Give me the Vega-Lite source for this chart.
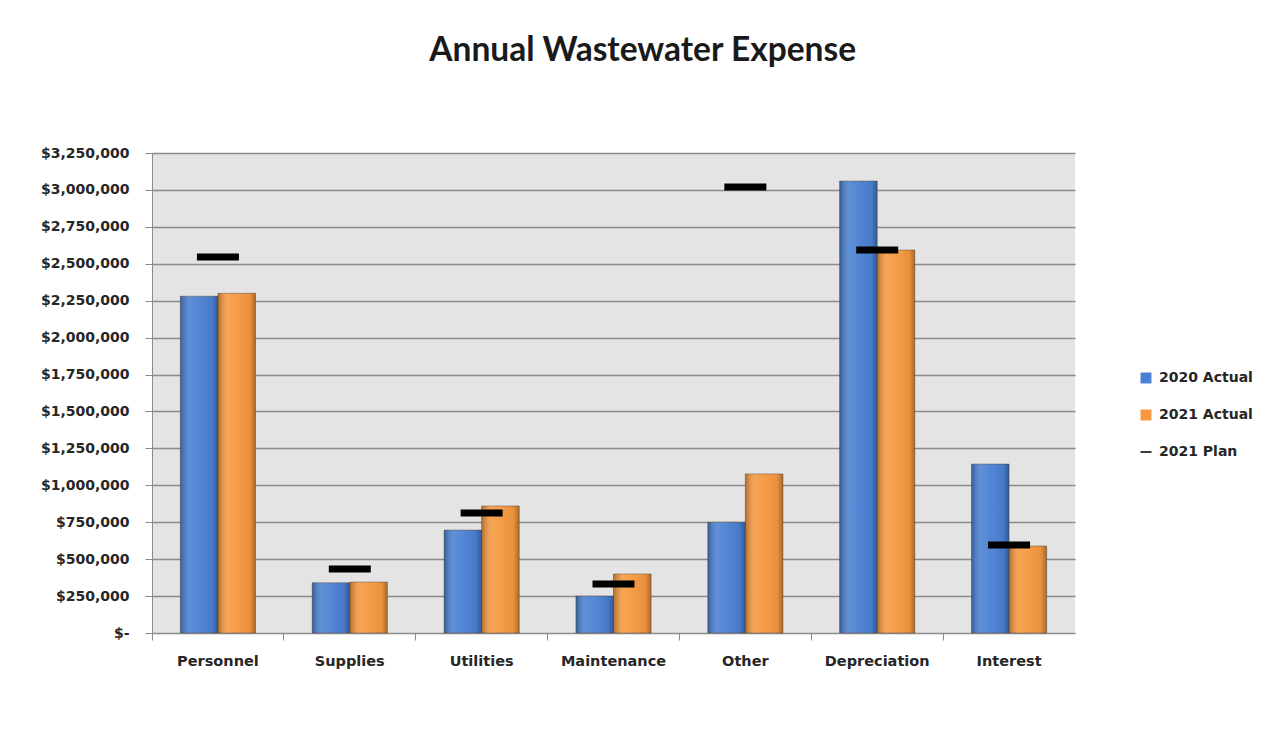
{
  "$schema": "https://vega.github.io/schema/vega-lite/v6.json",
  "width": 923,
  "height": 480,
  "autosize": "none",
  "padding": {"left": 152, "top": 153, "right": 201, "bottom": 117},
  "background": "white",
  "title": {
    "text": "Annual Wastewater Expense",
    "fontSize": 33.5,
    "font": "Lato",
    "fontWeight": "bold",
    "color": "#1a1a1a",
    "anchor": "middle",
    "frame": "bounds",
    "dx": -4,
    "offset": 78
  },
  "config": {
    "view": {"fill": "#e4e4e4", "stroke": null},
    "axis": {
      "labelFont": "DejaVu Sans",
      "labelFontWeight": "bold",
      "labelFontSize": 14,
      "labelColor": "#262626",
      "domainColor": "#8c8c8c",
      "tickColor": "#8c8c8c"
    },
    "legend": {
      "labelFont": "DejaVu Sans",
      "labelFontWeight": "bold",
      "labelFontSize": 14,
      "labelColor": "#262626"
    }
  },
  "datasets": {
    "actual": [
      {"category": "Personnel", "series": "2020 Actual", "value": 2280000},
      {"category": "Personnel", "series": "2021 Actual", "value": 2300000},
      {"category": "Supplies", "series": "2020 Actual", "value": 340000},
      {"category": "Supplies", "series": "2021 Actual", "value": 345000},
      {"category": "Utilities", "series": "2020 Actual", "value": 697000},
      {"category": "Utilities", "series": "2021 Actual", "value": 860000},
      {"category": "Maintenance", "series": "2020 Actual", "value": 250000},
      {"category": "Maintenance", "series": "2021 Actual", "value": 400000},
      {"category": "Other", "series": "2020 Actual", "value": 750000},
      {"category": "Other", "series": "2021 Actual", "value": 1077000},
      {"category": "Depreciation", "series": "2020 Actual", "value": 3060000},
      {"category": "Depreciation", "series": "2021 Actual", "value": 2593000},
      {"category": "Interest", "series": "2020 Actual", "value": 1144000},
      {"category": "Interest", "series": "2021 Actual", "value": 589000}
    ],
    "plan": [
      {"category": "Personnel", "series": "2021 Plan", "value": 2545000},
      {"category": "Supplies", "series": "2021 Plan", "value": 433000},
      {"category": "Utilities", "series": "2021 Plan", "value": 812000},
      {"category": "Maintenance", "series": "2021 Plan", "value": 332000},
      {"category": "Other", "series": "2021 Plan", "value": 3020000},
      {"category": "Depreciation", "series": "2021 Plan", "value": 2593000},
      {"category": "Interest", "series": "2021 Plan", "value": 596000}
    ]
  },
  "encoding": {
    "x": {
      "field": "category",
      "type": "nominal",
      "sort": ["Personnel", "Supplies", "Utilities", "Maintenance", "Other", "Depreciation", "Interest"],
      "scale": {"paddingInner": 0.43, "paddingOuter": 0.215},
      "axis": {
        "title": null,
        "labelAngle": 0,
        "labelPadding": 14,
        "labelFontSize": 14.5,
        "ticks": true,
        "bandPosition": -0.377,
        "tickSize": 7,
        "domainColor": "#8c8c8c"
      }
    },
    "y": {
      "field": "value",
      "type": "quantitative",
      "scale": {"domain": [0, 3250000], "nice": false},
      "axis": {
        "title": null,
        "values": [0, 250000, 500000, 750000, 1000000, 1250000, 1500000, 1750000, 2000000, 2250000, 2500000, 2750000, 3000000, 3250000],
        "labelExpr": "datum.value === 0 ? '$-' : '$' + format(datum.value, ',')",
        "grid": true,
        "gridColor": "#8a8a8a",
        "gridWidth": 1.5,
        "tickSize": 7,
        "labelPadding": 16
      }
    }
  },
  "resolve": {"scale": {"color": "independent"}, "legend": {"color": "independent"}},
  "layer": [
    {
      "data": {"name": "actual"},
      "mark": {"type": "bar", "stroke": "#5a4a3a", "strokeWidth": 0.8, "strokeOpacity": 0.6},
      "encoding": {
        "xOffset": {"field": "series", "type": "nominal", "scale": {"paddingInner": 0}},
        "color": {
          "field": "series",
          "type": "nominal",
          "scale": {
            "domain": ["2020 Actual", "2021 Actual"],
            "range": ["#4a80d2", "#f5983f"]
          },
          "legend": {
            "title": null,
            "orient": "none",
            "legendX": 987,
            "legendY": 218,
            "symbolType": "square",
            "symbolSize": 120,
            "rowPadding": 23,
            "labelOffset": 6,
            "symbolStrokeWidth": 0
          }
        }
      }
    },
    {
      "data": {"name": "actual"},
      "mark": {
        "type": "bar",
        "fill": {
          "gradient": "linear",
          "x1": 0, "y1": 0, "x2": 1, "y2": 0,
          "stops": [
            {"offset": 0, "color": "rgba(0,0,0,0.28)"},
            {"offset": 0.25, "color": "rgba(255,255,255,0.12)"},
            {"offset": 0.5, "color": "rgba(255,255,255,0.05)"},
            {"offset": 0.85, "color": "rgba(0,0,0,0.05)"},
            {"offset": 1, "color": "rgba(0,0,0,0.3)"}
          ]
        }
      },
      "encoding": {
        "xOffset": {"field": "series", "type": "nominal", "scale": {"paddingInner": 0}}
      }
    },
    {
      "data": {"name": "plan"},
      "mark": {"type": "tick", "thickness": 7, "size": 42, "opacity": 1},
      "encoding": {
        "color": {
          "field": "series",
          "type": "nominal",
          "scale": {"domain": ["2021 Plan"], "range": ["#000000"]},
          "legend": {
            "title": null,
            "orient": "none",
            "legendX": 987,
            "legendY": 292,
            "symbolType": "M-1,-0.14H1V0.14H-1Z",
            "symbolSize": 120,
            "labelOffset": 6,
            "symbolStrokeWidth": 0
          }
        }
      }
    }
  ]
}
